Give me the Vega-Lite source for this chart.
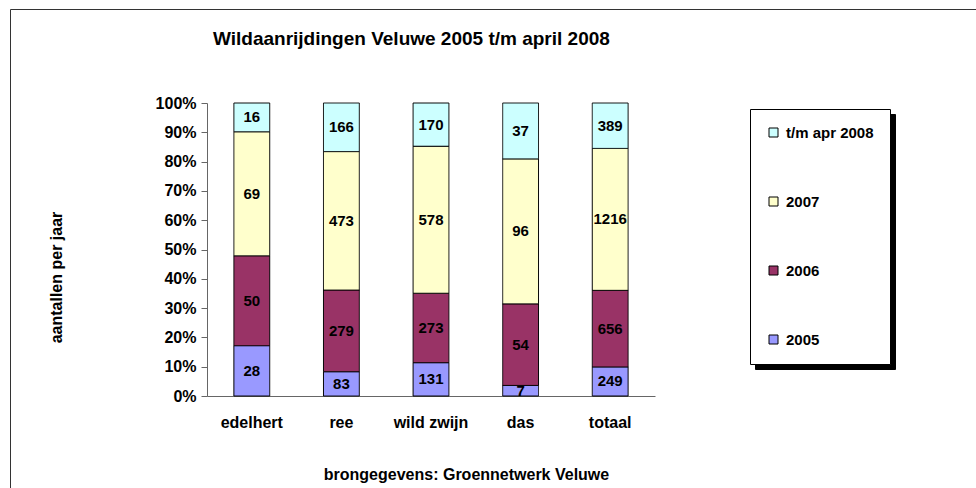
{
  "$schema": "https://vega.github.io/schema/vega-lite/v6.json",
  "width": 448,
  "height": 293,
  "autosize": {"type": "none"},
  "padding": {"left": 207, "top": 103, "right": 321, "bottom": 92},
  "background": "white",
  "title": {
    "text": "Wildaanrijdingen Veluwe 2005 t/m april 2008",
    "anchor": "start",
    "frame": "group",
    "dx": 6,
    "offset": -55,
    "baseline": "alphabetic",
    "font": "Liberation Sans",
    "fontSize": 19,
    "fontWeight": "bold",
    "color": "black"
  },
  "data": {
    "values": [
      {"animal": "edelhert", "series": "2005", "count": 28},
      {"animal": "edelhert", "series": "2006", "count": 50},
      {"animal": "edelhert", "series": "2007", "count": 69},
      {"animal": "edelhert", "series": "t/m apr 2008", "count": 16},
      {"animal": "ree", "series": "2005", "count": 83},
      {"animal": "ree", "series": "2006", "count": 279},
      {"animal": "ree", "series": "2007", "count": 473},
      {"animal": "ree", "series": "t/m apr 2008", "count": 166},
      {"animal": "wild zwijn", "series": "2005", "count": 131},
      {"animal": "wild zwijn", "series": "2006", "count": 273},
      {"animal": "wild zwijn", "series": "2007", "count": 578},
      {"animal": "wild zwijn", "series": "t/m apr 2008", "count": 170},
      {"animal": "das", "series": "2005", "count": 7},
      {"animal": "das", "series": "2006", "count": 54},
      {"animal": "das", "series": "2007", "count": 96},
      {"animal": "das", "series": "t/m apr 2008", "count": 37},
      {"animal": "totaal", "series": "2005", "count": 249},
      {"animal": "totaal", "series": "2006", "count": 656},
      {"animal": "totaal", "series": "2007", "count": 1216},
      {"animal": "totaal", "series": "t/m apr 2008", "count": 389}
    ]
  },
  "transform": [
    {"stack": "count", "groupby": ["animal"], "sort": [{"field": "series", "order": "ascending"}], "offset": "normalize", "as": ["y0", "y1"]},
    {"calculate": "(datum.y0 + datum.y1) / 2", "as": "ymid"}
  ],
  "encoding": {
    "x": {
      "field": "animal",
      "type": "nominal",
      "sort": ["edelhert", "ree", "wild zwijn", "das", "totaal"],
      "scale": {"paddingInner": 0.6, "paddingOuter": 0.3},
      "axis": {
        "title": "brongegevens: Groennetwerk Veluwe",
        "titleX": 259,
        "titleY": 70,
        "labelAngle": 0,
        "ticks": false,
        "tickSize": 0,
        "labelPadding": 18,
        "domainColor": "#666666"
      }
    }
  },
  "layer": [
    {
      "mark": {"type": "bar", "stroke": "black", "strokeWidth": 1},
      "encoding": {
        "y": {
          "field": "y0",
          "type": "quantitative",
          "scale": {"domain": [0, 1], "nice": false},
          "axis": {
            "title": "aantallen per jaar",
            "titleX": -143,
            "titleY": 174,
            "format": ".0%",
            "values": [0, 0.1, 0.2, 0.3, 0.4, 0.5, 0.6, 0.7, 0.8, 0.9, 1],
            "labelOverlap": false,
            "tickSize": 6,
            "labelPadding": 5,
            "grid": false,
            "domainColor": "#666666",
            "tickColor": "#666666"
          }
        },
        "y2": {"field": "y1"},
        "fill": {
          "field": "series",
          "type": "nominal",
          "scale": {
            "domain": ["t/m apr 2008", "2007", "2006", "2005"],
            "range": ["#CCFFFF", "#FFFFCC", "#993366", "#9999FF"]
          },
          "legend": {
            "title": null,
            "orient": "none",
            "legendX": 543,
            "legendY": 6,
            "zindex": 3,
            "fillColor": "white",
            "strokeColor": "black",
            "padding": 16,
            "rowPadding": 53,
            "symbolType": "square",
            "symbolSize": 81,
            "symbolStrokeColor": "black",
            "symbolStrokeWidth": 1,
            "labelOffset": 5,
            "labelFontSize": 15,
            "labelFontWeight": "bold",
            "labelFont": "Liberation Sans",
            "labelColor": "black",
            "labelLimit": 200
          }
        },
        "strokeDash": {
          "field": "animal",
          "type": "nominal",
          "scale": {"range": [[1, 0], [1, 0], [1, 0], [1, 0], [1, 0]]},
          "legend": {
            "title": null,
            "orient": "none",
            "legendX": -197,
            "legendY": -94,
            "zindex": 0,
            "fillColor": null,
            "strokeColor": "#333333",
            "padding": 490,
            "symbolOpacity": 0,
            "symbolStrokeWidth": 0,
            "labelExpr": "''"
          }
        }
      }
    },
    {
      "mark": {"type": "text", "font": "Liberation Sans", "fontSize": 15, "fontWeight": "bold", "color": "black", "baseline": "middle"},
      "encoding": {
        "y": {
          "field": "ymid",
          "type": "quantitative",
          "axis": {
            "title": "aantallen per jaar",
            "titleX": -143,
            "titleY": 174,
            "format": ".0%",
            "values": [0, 0.1, 0.2, 0.3, 0.4, 0.5, 0.6, 0.7, 0.8, 0.9, 1],
            "labelOverlap": false,
            "tickSize": 6,
            "labelPadding": 5,
            "grid": false,
            "domainColor": "#666666",
            "tickColor": "#666666"
          }
        },
        "text": {"field": "count", "type": "quantitative"},
        "opacity": {
          "field": "series",
          "type": "nominal",
          "scale": {"domain": ["2005", "2006", "2007", "t/m apr 2008"], "range": [1, 1, 1, 1]},
          "legend": {
            "title": null,
            "orient": "none",
            "legendX": 548,
            "legendY": 11,
            "zindex": 1,
            "fillColor": "black",
            "strokeColor": "black",
            "padding": 16,
            "rowPadding": 53,
            "symbolType": "square",
            "symbolSize": 225,
            "symbolOpacity": 0,
            "symbolStrokeWidth": 0,
            "labelOffset": 93,
            "labelExpr": "''",
            "labelFontSize": 15,
            "labelFont": "Liberation Sans"
          }
        }
      }
    }
  ],
  "config": {
    "view": {"stroke": null},
    "font": "Liberation Sans",
    "axis": {
      "labelFont": "Liberation Sans",
      "labelFontSize": 16,
      "labelFontWeight": "bold",
      "labelColor": "black",
      "titleFont": "Liberation Sans",
      "titleFontSize": 16,
      "titleFontWeight": "bold",
      "titleColor": "black"
    }
  }
}
